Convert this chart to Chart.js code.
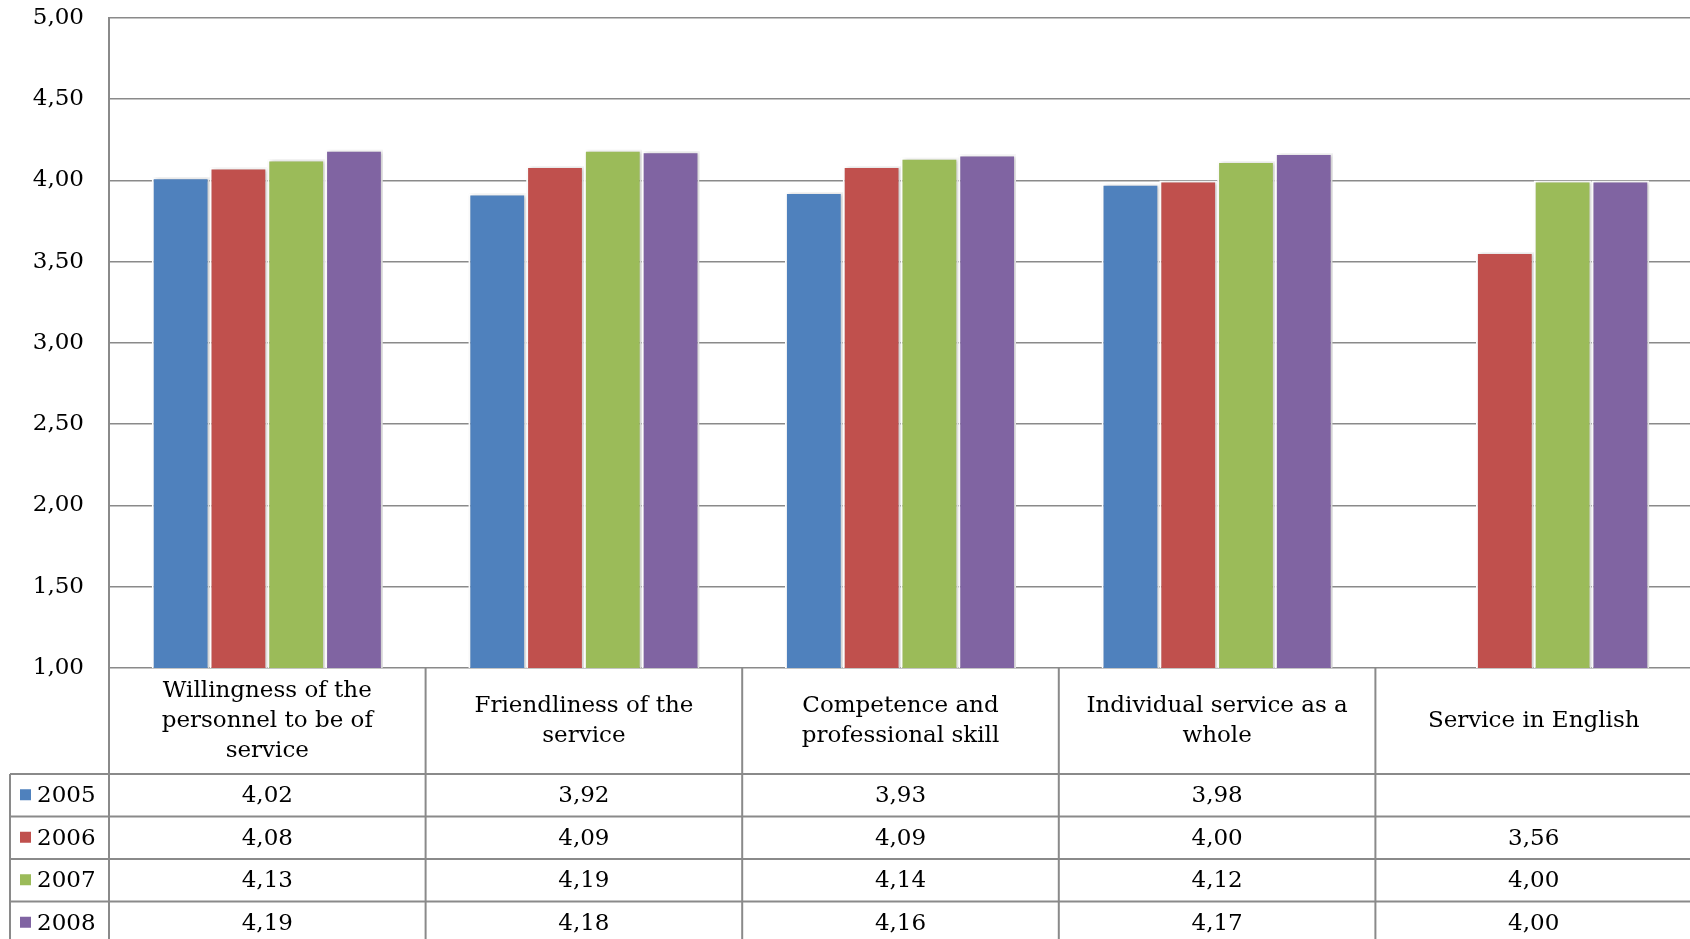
<!DOCTYPE html>
<html>
<head>
<meta charset="utf-8">
<script src="https://cdn.jsdelivr.net/npm/chart.js@4.4.0/dist/chart.umd.min.js"></script>
<style>
  html, body { margin: 0; padding: 0; background: #fff; overflow: hidden; }
  #wrap { width: 1692px; height: 939px; }
</style>
</head>
<body>
<div id="wrap"><canvas id="grafico"></canvas></div>
<script>
// Dados
const categorias = [
  ['Willingness of the', 'personnel to be of', 'service'],
  ['Friendliness of the', 'service'],
  ['Competence and', 'professional skill'],
  ['Individual service as a', 'whole'],
  ['Service in English']
];
const anos = ['2005', '2006', '2007', '2008'];
const valores2005 = [4.02, 3.92, 3.93, 3.98, null];
const valores2006 = [4.08, 4.09, 4.09, 4.00, 3.56];
const valores2007 = [4.13, 4.19, 4.14, 4.12, 4.00];
const valores2008 = [4.19, 4.18, 4.16, 4.17, 4.00];
const cores = ['#4f81bd', '#c0504d', '#9bbb59', '#8064a2'];

const FONTE = 'DejaVu Serif';
const COR_LINHA = '#8a8a8a';
const COR_TEXTO = '#000';
const formatar = v => v == null ? '' : v.toFixed(2).replace('.', ',');

// Sombra leve nas barras
const sombra = {
  id: 'sombra',
  beforeDatasetsDraw(chart) {
    const ctx = chart.ctx;
    ctx.save();
    ctx.shadowColor = 'rgba(0,0,0,0.22)';
    ctx.shadowBlur = 4;
    ctx.shadowOffsetX = 2;
    ctx.shadowOffsetY = 0;
  },
  afterDatasetsDraw(chart) { chart.ctx.restore(); }
};

// Tabela de dados abaixo do gráfico
const tabela = {
  id: 'tabela',
  afterDraw(chart) {
    const ctx = chart.ctx;
    const area = chart.chartArea;
    const x = chart.scales.x;
    const n = categorias.length;
    const larg = (area.right - area.left) / n;
    const topo = area.bottom;
    const fimCab = topo + 106;
    const altLinha = 42.5;
    const esq = 10;
    const fundo = fimCab + altLinha * anos.length + 2;

    ctx.save();
    ctx.strokeStyle = COR_LINHA;
    ctx.lineWidth = 2;

    // linhas horizontais
    for (let r = 0; r <= anos.length; r++) {
      const y = fimCab + r * altLinha;
      ctx.beginPath(); ctx.moveTo(esq, y); ctx.lineTo(area.right + 5, y); ctx.stroke();
    }
    // linhas verticais
    ctx.beginPath(); ctx.moveTo(esq, fimCab); ctx.lineTo(esq, fundo); ctx.stroke();
    for (let i = 0; i <= n; i++) {
      const xv = area.left + i * larg;
      ctx.beginPath(); ctx.moveTo(xv, topo); ctx.lineTo(xv, fundo); ctx.stroke();
    }

    ctx.fillStyle = COR_TEXTO;
    ctx.textAlign = 'center';
    ctx.textBaseline = 'middle';

    // cabeçalho com as categorias
    ctx.font = '23px "' + FONTE + '"';
    const altTexto = 30;
    categorias.forEach((linhas, i) => {
      const cx = x.getPixelForValue(i);
      const meio = (topo + fimCab) / 2;
      const y0 = meio - (linhas.length - 1) * altTexto / 2;
      linhas.forEach((t, k) => ctx.fillText(t, cx, y0 + k * altTexto));
    });

    // linhas de valores
    const series = chart.data.datasets;
    ctx.font = '23px "' + FONTE + '"';
    series.forEach((ds, r) => {
      const cy = fimCab + r * altLinha + altLinha / 2 + 1;
      ds.data.forEach((v, i) => {
        ctx.textAlign = 'center';
        ctx.fillText(formatar(v), x.getPixelForValue(i), cy);
      });
      ctx.fillStyle = ds.backgroundColor;
      ctx.fillRect(20, cy - 7, 11, 11);
      ctx.fillStyle = COR_TEXTO;
      ctx.textAlign = 'left';
      ctx.fillText(ds.label, 37, cy);
    });
    ctx.restore();
  }
};

const serieValores = [valores2005, valores2006, valores2007, valores2008];

new Chart(document.getElementById('grafico').getContext('2d'), {
  type: 'bar',
  data: {
    labels: categorias,
    datasets: anos.map((ano, i) => ({
      label: ano,
      data: serieValores[i],
      backgroundColor: cores[i],
      borderColor: '#ffffff',
      borderWidth: 2,
      borderSkipped: 'bottom',
      categoryPercentage: 0.73,
      barPercentage: 1.0
    }))
  },
  options: {
    responsive: true,
    maintainAspectRatio: false,
    animation: false,
    layout: { padding: { top: 18, bottom: 271, left: 0, right: 0 } },
    plugins: { legend: { display: false }, tooltip: { enabled: false } },
    scales: {
      x: { display: false },
      y: {
        min: 1, max: 5,
        afterFit: escala => { escala.width = 109; escala.paddingTop = 0; escala.paddingBottom = 0; },
        grid: { color: COR_LINHA, lineWidth: 1.6, drawTicks: false },
        border: { color: COR_LINHA, width: 2 },
        ticks: {
          stepSize: 0.5,
          padding: 25,
          color: COR_TEXTO,
          font: { family: FONTE, size: 23 },
          callback: v => formatar(v)
        }
      }
    }
  },
  plugins: [sombra, tabela]
});
</script>
</body>
</html>
